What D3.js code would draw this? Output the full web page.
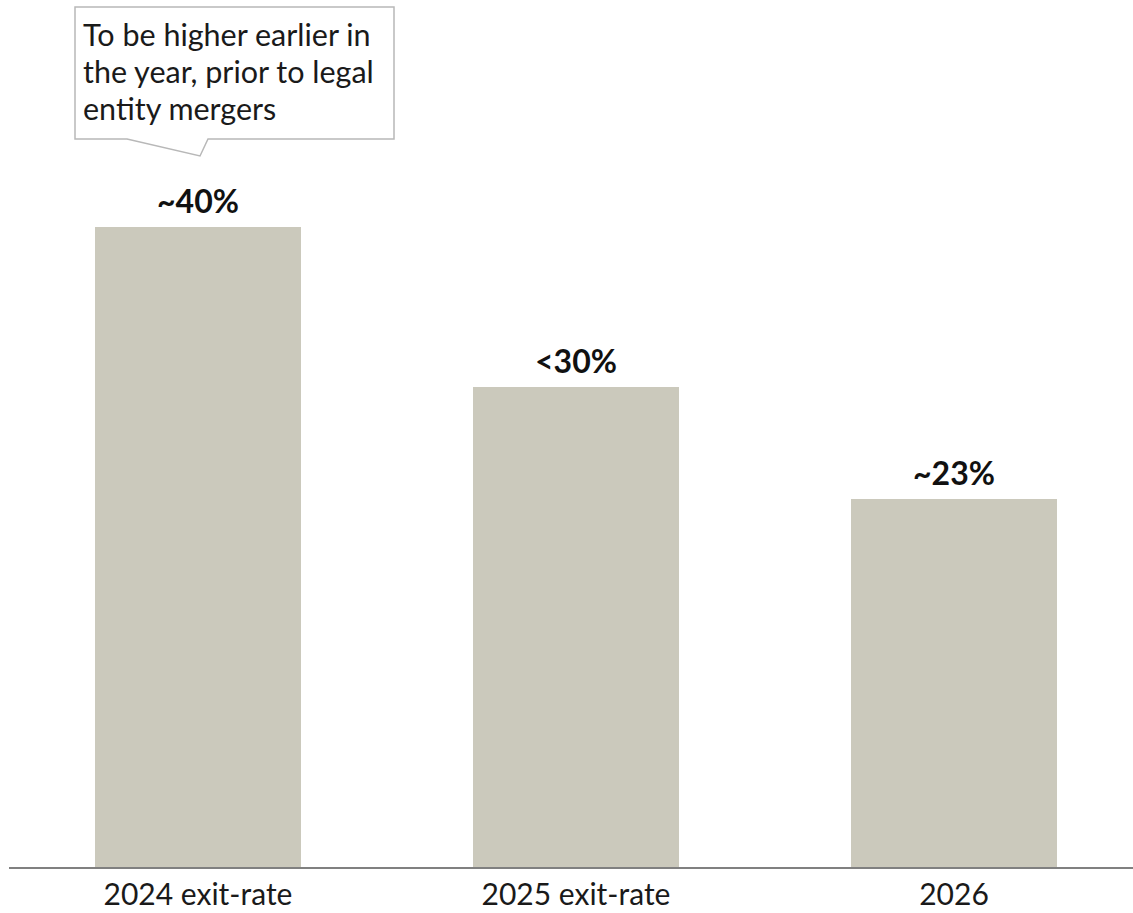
<!DOCTYPE html>
<html>
<head>
<meta charset="utf-8">
<script src="https://cdn.jsdelivr.net/npm/d3@7"></script>
<style>
  html, body { margin: 0; padding: 0; background: #fff; }
  svg { display: block; font-family: Lato, "Noto Sans", sans-serif; }
</style>
</head>
<body>
<svg id="chart" width="1133" height="913"></svg>
<script>
const categories = ["2024 exit-rate", "2025 exit-rate", "2026"];
const values = [40, 30, 23];
const valueLabels = ["~40%", "<30%", "~23%"];
const calloutLines = ["To be higher earlier in", "the year, prior to legal", "entity mergers"];

const svg = d3.select("#chart");
const baseY = 867, topY = 227;

const y = d3.scaleLinear().domain([0, 40]).range([baseY, topY]);
const bx = d3.scalePoint().domain(categories).range([198, 954]);
const bw = 206;

svg.append("g").selectAll("rect").data(categories).join("rect")
  .attr("x", d => bx(d) - bw / 2)
  .attr("y", (d, i) => y(values[i]))
  .attr("width", bw)
  .attr("height", (d, i) => baseY - y(values[i]))
  .attr("fill", "#cbc9bc");

// baseline
svg.append("line")
  .attr("x1", 9).attr("x2", 1133)
  .attr("y1", baseY + 1).attr("y2", baseY + 1)
  .attr("stroke", "#808080").attr("stroke-width", 2);

// category labels
svg.append("g").selectAll("text").data(categories).join("text")
  .attr("x", d => bx(d))
  .attr("y", 905)
  .attr("text-anchor", "middle")
  .attr("font-size", 30)
  .attr("fill", "#1a1a1a")
  .text(d => d);

// value labels
svg.append("g").selectAll("text").data(categories).join("text")
  .attr("x", d => bx(d))
  .attr("y", (d, i) => y(values[i]) - 14)
  .attr("text-anchor", "middle")
  .attr("font-size", 32)
  .attr("font-weight", "bold")
  .attr("fill", "#111")
  .text((d, i) => valueLabels[i]);

// callout
const cb = { x0: 75, y0: 7, x1: 394, y1: 139 };
const tip = { x: 200, y: 156 };
svg.append("path")
  .attr("d", `M${cb.x0},${cb.y0} L${cb.x1},${cb.y0} L${cb.x1},${cb.y1} L208,${cb.y1} L${tip.x},${tip.y} L127,${cb.y1} L${cb.x0},${cb.y1} Z`)
  .attr("fill", "#fff")
  .attr("stroke", "#b8b8b8")
  .attr("stroke-width", 1.5);

svg.append("g").selectAll("text").data(calloutLines).join("text")
  .attr("x", 83)
  .attr("y", (d, i) => 46 + i * 37)
  .attr("font-size", 30.5)
  .attr("fill", "#1a1a1a")
  .text(d => d);
</script>
</body>
</html>
